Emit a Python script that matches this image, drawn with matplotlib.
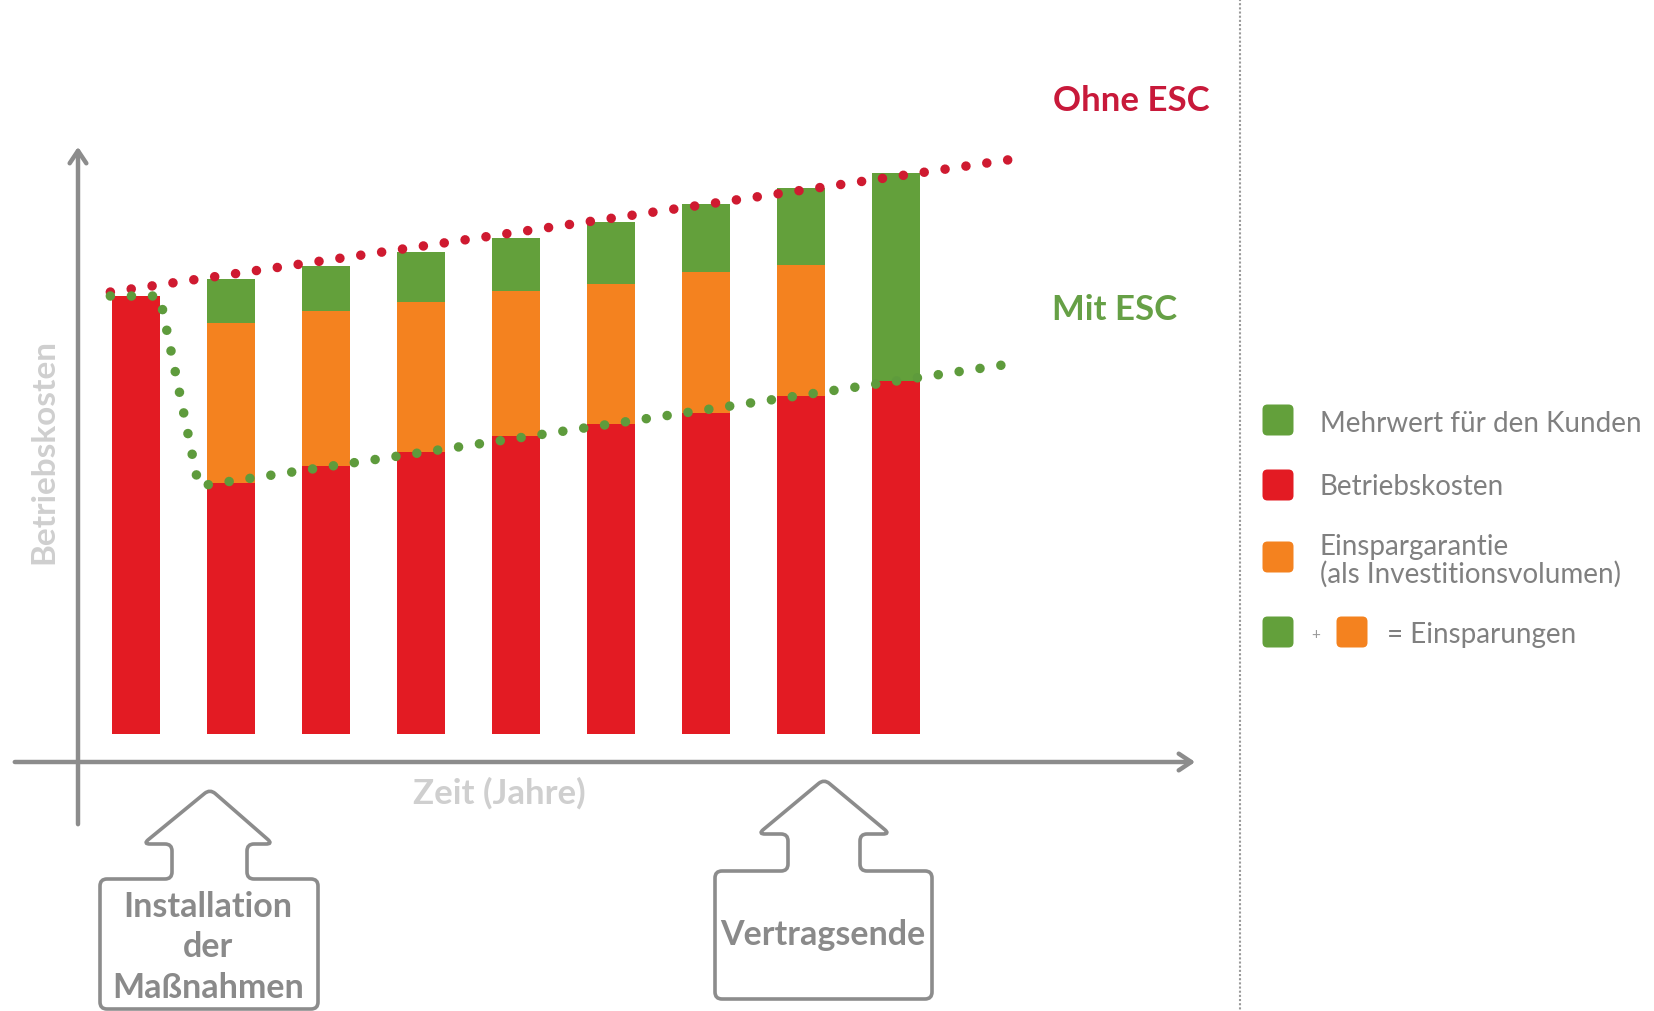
import matplotlib
matplotlib.use("Agg")
import matplotlib.pyplot as plt
import numpy as np
from matplotlib.patches import FancyBboxPatch, PathPatch
from matplotlib.path import Path

# ---------------- data ----------------
years = [0, 1, 2, 3, 4, 5, 6, 7, 8]
betriebskosten = [100.0, 57.3, 61.2, 64.4, 68.0, 70.8, 73.3, 77.2, 80.6]
einspargarantie = [0.0, 36.5, 35.3, 34.2, 33.1, 31.9, 32.2, 29.9, 0.0]
mehrwert = [0.0, 10.1, 10.3, 11.4, 12.1, 14.2, 15.5, 17.6, 47.5]

ohne_x = [-0.27, 9.25]
ohne_y = [100.9, 131.3]
mit_x = [-0.27, 0.25, 0.66, 9.2]
mit_y = [100.0, 100.0, 56.6, 84.5]

legend_labels = ["Mehrwert für den Kunden", "Betriebskosten",
                 "Einspargarantie\n(als Investitionsvolumen)", "= Einsparungen"]

# ---------------- style ----------------
RED = "#E31B23"
ORANGE = "#F4821F"
GREEN = "#63A03B"
DOT_RED = "#CF1A30"
DOT_GREEN = "#5E9B3C"
GRAY = "#8C8C8C"
LIGHT = "#CFCFCF"

W, H = 1654, 1012
fig = plt.figure(figsize=(W / 100, H / 100), dpi=100)
fig.patch.set_facecolor("white")

# overlay axes in pixel coordinates for decorations
ov = fig.add_axes([0, 0, 1, 1])
ov.set_xlim(0, W)
ov.set_ylim(H, 0)
ov.axis("off")

# chart axes: pixel x = 136 + 95*i, pixel y = 735 - 4.38*v
x0, x1 = -0.6, 9.6
y0, y1 = 0, 140
px_l, px_r = 136 + 95 * x0, 136 + 95 * x1
py_b, py_t = 735 - 4.38 * y0, 735 - 4.38 * y1
ax = fig.add_axes([px_l / W, (H - py_b) / H, (px_r - px_l) / W, (py_b - py_t) / H])
ax.set_xlim(x0, x1)
ax.set_ylim(y0, y1)
ax.axis("off")
ax.patch.set_alpha(0)

bw = 0.505
ax.bar(years, betriebskosten, width=bw, color=RED, zorder=2)
ax.bar(years, einspargarantie, width=bw, bottom=betriebskosten, color=ORANGE, zorder=2)
bot2 = [a + b for a, b in zip(betriebskosten, einspargarantie)]
ax.bar(years, mehrwert, width=bw, bottom=bot2, color=GREEN, zorder=2)

dots = (0, (0.001, 2.2))
ax.plot(ohne_x, ohne_y, color=DOT_RED, lw=6.9, ls=dots, dash_capstyle="round", zorder=4, clip_on=False)
ax.plot(mit_x, mit_y, color=DOT_GREEN, lw=6.9, ls=dots, dash_capstyle="round", zorder=4, clip_on=False)

# axes with arrows
ov.annotate("", xy=(1198, 763), xytext=(12, 763),
            arrowprops=dict(arrowstyle="->,head_length=0.9,head_width=0.6", color=GRAY, lw=3.2))
ov.annotate("", xy=(78, 145), xytext=(78, 828),
            arrowprops=dict(arrowstyle="->,head_length=0.9,head_width=0.6", color=GRAY, lw=3.2))

ov.text(44, 452, "Betriebskosten", rotation=90, ha="center", va="center",
        fontsize=24, color=LIGHT, fontweight="bold", family="Lato")
ov.text(499, 793, "Zeit (Jahre)", ha="center", va="center",
        fontsize=25, color=LIGHT, fontweight="bold", family="Lato")

ov.text(1131, 101, "Ohne ESC", ha="center", va="center", fontsize=25,
        color="#C8193A", fontweight="bold", family="Lato")
ov.text(1115, 310, "Mit ESC", ha="center", va="center", fontsize=25,
        color="#66A046", fontweight="bold", family="Lato")

# separator
ov.plot([1240, 1240], [0, H], color="#9A9A9A", lw=1.5, ls=(0, (1, 1)))

# legend
def sq(cx, cy, color):
    s = 31
    ov.add_patch(FancyBboxPatch((cx - s / 2 + 5, cy - s / 2 + 5), s - 10, s - 10,
                                boxstyle="round,pad=5", fc=color, ec="none"))

sq(1278, 421, GREEN)
sq(1278, 486, RED)
sq(1278, 558, ORANGE)
sq(1278, 633, GREEN)
sq(1352, 633, ORANGE)
lt = dict(fontsize=20, color="#808080", family="Lato", fontweight="normal", va="center", ha="left")
ov.text(1320, 424, legend_labels[0], **lt)
ov.text(1320, 487, legend_labels[1], **lt)
ov.text(1320, 561, legend_labels[2], linespacing=1.05, **lt)
ov.text(1316, 635, "+", fontsize=11, color="#9A9A9A", family="Lato", va="center", ha="center")
ov.text(1387, 635, legend_labels[3], **lt)


# arrow boxes with slightly rounded corners
def rounded_path(pts, r=8):
    pts = np.asarray(pts, float)
    n = len(pts)
    verts, codes = [], []
    for i in range(n):
        p_prev, p, p_next = pts[i - 1], pts[i], pts[(i + 1) % n]
        d1 = (p_prev - p) / np.linalg.norm(p_prev - p)
        d2 = (p_next - p) / np.linalg.norm(p_next - p)
        a = p + d1 * r
        b = p + d2 * r
        if i == 0:
            verts.append(a); codes.append(Path.MOVETO)
        else:
            verts.append(a); codes.append(Path.LINETO)
        verts += [p, b]; codes += [Path.CURVE3, Path.CURVE3]
    verts.append(verts[0]); codes.append(Path.CLOSEPOLY)
    return Path(verts, codes)


def arrow_box(tip, wing_y, wl, wr, sl, sr, top, left, right, bottom):
    pts = [(tip[0], tip[1]), (wr, wing_y), (sr, wing_y), (sr, top), (right, top),
           (right, bottom), (left, bottom), (left, top), (sl, top), (sl, wing_y),
           (wl, wing_y)]
    ov.add_patch(PathPatch(rounded_path(pts, 7), fill=False, ec=GRAY, lw=2.6, joinstyle="round"))

arrow_box((210, 790), 845, 143, 273, 172, 247, 880, 100, 318, 1010)
arrow_box((824, 780), 835, 758, 890, 788, 860, 872, 715, 932, 1000)

bt = dict(ha="center", va="center", fontsize=24.5, color="#8A8A8A", fontweight="bold", family="Lato")
ov.text(208, 907, "Installation", **bt)
ov.text(208, 947, "der", **bt)
ov.text(208, 988, "Maßnahmen", **bt)
ov.text(823, 935, "Vertragsende", **bt)

fig.savefig("out.png", dpi=100, facecolor="white")
